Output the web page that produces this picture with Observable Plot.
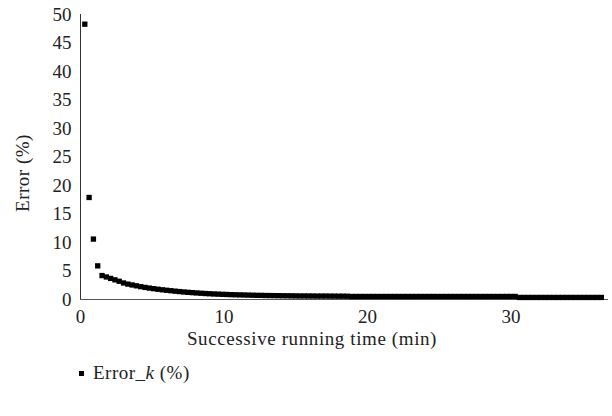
<!DOCTYPE html>
<html>
<head>
<meta charset="utf-8">
<script src="https://cdn.jsdelivr.net/npm/d3@7"></script>
<script src="https://cdn.jsdelivr.net/npm/@observablehq/plot@0.6"></script>
<style>
  body { margin: 0; background: #fff; font-family: "Liberation Serif", serif; }
  #wrap { position: relative; width: 612px; height: 416px; }
  #legend { position: absolute; left: 79px; top: 362px; font-size: 19px; letter-spacing: 0.5px; color: #222; display: flex; align-items: center; }
  #legend .sw { display: inline-block; width: 5px; height: 5px; background: #000; margin-right: 9px; }
</style>
</head>
<body>
<div id="wrap"></div>
<script>
const seriesName = "Error_k (%)";
const xLabel = "Successive running time (min)";
const yLabel = "Error (%)";
const xTicks = [0, 10, 20, 30];
const yTicks = [0, 5, 10, 15, 20, 25, 30, 35, 40, 45, 50];

const times = [0.3, 0.6, 0.9, 1.2, 1.5, 1.8, 2.1, 2.4, 2.7, 3.0, 3.3, 3.6, 3.9, 4.2, 4.5, 4.8, 5.1, 5.4, 5.7, 6.0,
  6.3, 6.6, 6.9, 7.2, 7.5, 7.8, 8.1, 8.4, 8.7, 9.0, 9.3, 9.6, 9.9, 10.2, 10.5, 10.8, 11.1, 11.4, 11.7, 12.0,
  12.3, 12.6, 12.9, 13.2, 13.5, 13.8, 14.1, 14.4, 14.7, 15.0, 15.3, 15.6, 15.9, 16.2, 16.5, 16.8, 17.1, 17.4, 17.7, 18.0,
  18.3, 18.6, 18.9, 19.2, 19.5, 19.8, 20.1, 20.4, 20.7, 21.0, 21.3, 21.6, 21.9, 22.2, 22.5, 22.8, 23.1, 23.4, 23.7, 24.0,
  24.3, 24.6, 24.9, 25.2, 25.5, 25.8, 26.1, 26.4, 26.7, 27.0, 27.3, 27.6, 27.9, 28.2, 28.5, 28.8, 29.1, 29.4, 29.7, 30.0,
  30.3, 30.6, 30.9, 31.2, 31.5, 31.8, 32.1, 32.4, 32.7, 33.0, 33.3, 33.6, 33.9, 34.2, 34.5, 34.8, 35.1, 35.4, 35.7, 36.0,
  36.3];

const errors = [48.3, 17.9, 10.6, 5.9, 4.2, 3.95, 3.7, 3.45, 3.2, 2.9, 2.7, 2.55, 2.4, 2.25, 2.12, 2.0, 1.9, 1.8, 1.7, 1.62,
  1.54, 1.46, 1.39, 1.32, 1.26, 1.2, 1.15, 1.1, 1.05, 1.01, 0.97, 0.94, 0.91, 0.88, 0.85, 0.83, 0.81, 0.79, 0.77, 0.75,
  0.73, 0.72, 0.70, 0.69, 0.68, 0.67, 0.66, 0.65, 0.64, 0.63, 0.62, 0.62, 0.61, 0.61, 0.60, 0.60, 0.60, 0.59, 0.59, 0.58,
  0.58, 0.57, 0.53, 0.53, 0.53, 0.53, 0.53, 0.53, 0.53, 0.53, 0.53, 0.53, 0.53, 0.53, 0.53, 0.53, 0.53, 0.53, 0.53, 0.53,
  0.53, 0.53, 0.53, 0.53, 0.53, 0.53, 0.53, 0.53, 0.53, 0.53, 0.53, 0.53, 0.53, 0.53, 0.53, 0.53, 0.53, 0.53, 0.53, 0.53,
  0.53, 0.36, 0.36, 0.36, 0.36, 0.36, 0.36, 0.36, 0.36, 0.36, 0.36, 0.36, 0.36, 0.36, 0.36, 0.36, 0.36, 0.36, 0.36, 0.36,
  0.36];

const data = times.map((t, i) => ({t, e: errors[i]}));

const W = 612, H = 355, mL = 80, mR = 4, mT = 14, mB = 56;

const chart = Plot.plot({
  width: W, height: H,
  marginLeft: mL, marginRight: mR, marginTop: mT, marginBottom: mB,
  style: {fontFamily: "Liberation Serif, serif", fontSize: "19px", color: "#222", background: "#fff"},
  x: {domain: [0, 36.8], ticks: xTicks, tickSize: 0, tickPadding: 10, label: null},
  y: {domain: [0, 50], ticks: yTicks, tickSize: 0, tickPadding: 9, label: null},
  marks: [
    Plot.ruleX([0], {stroke: "#333", strokeWidth: 1}),
    Plot.ruleY([0], {stroke: "#555", strokeWidth: 1.2}),
    Plot.dot(data, {x: "t", y: "e", symbol: "square", r: 3, fill: "#000", stroke: "none"})
  ]
});

const svg = d3.select(chart);
svg.append("text")
  .attr("transform", "translate(25,173) rotate(-90)")
  .attr("text-anchor", "middle")
  .attr("dominant-baseline", "middle")
  .attr("fill", "#222")
  .attr("font-size", "19px")
  .attr("letter-spacing", "0.5px")
  .text(yLabel);
svg.append("text")
  .attr("x", 312).attr("y", 341)
  .attr("text-anchor", "middle")
  .attr("dominant-baseline", "middle")
  .attr("fill", "#222")
  .attr("font-size", "19px")
  .attr("letter-spacing", "0.6px")
  .text(xLabel);

const wrap = document.getElementById("wrap");
wrap.appendChild(chart);

const legend = document.createElement("div");
legend.id = "legend";
const parts = seriesName.split("k");
legend.innerHTML = `<span class="sw"></span><span>${parts[0]}<i>k</i>${parts[1]}</span>`;
wrap.appendChild(legend);
</script>
</body>
</html>
